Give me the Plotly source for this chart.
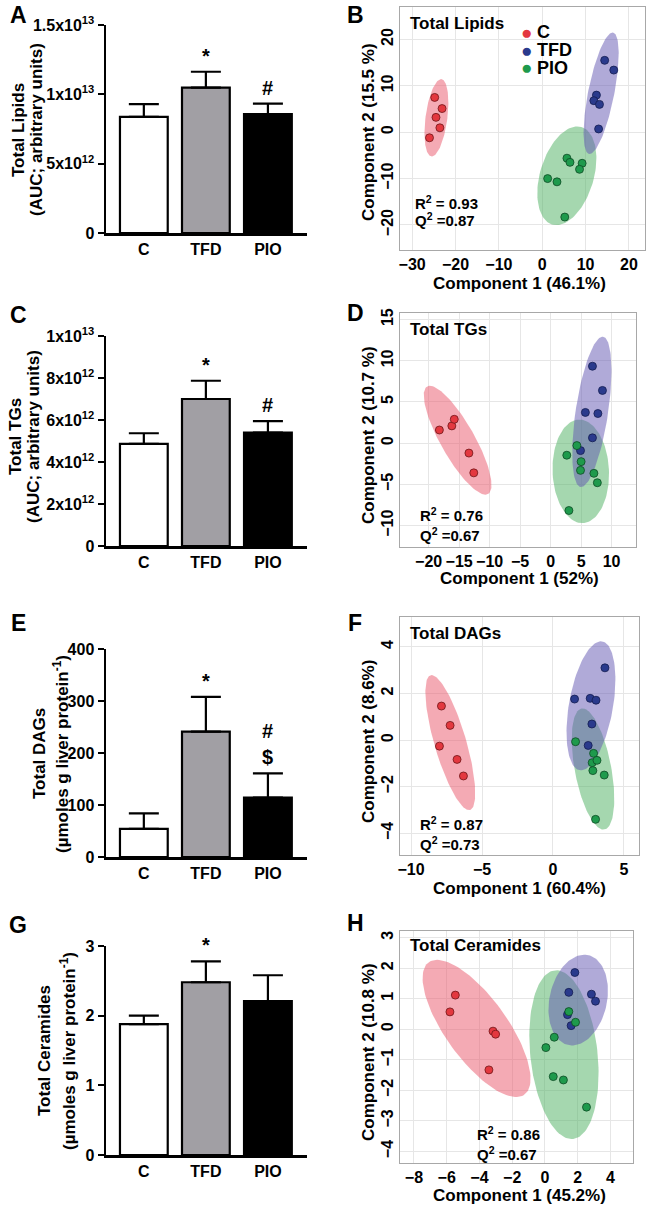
import numpy as np
import plotly.graph_objects as go

W, H = 646, 1208
FONT = "Arial, 'Liberation Sans', Helvetica, sans-serif"

groups = ["C", "TFD", "PIO"]

# ---------------- bar panels (mean, SEM) ----------------
lipids_mean = [0.837e13, 1.048e13, 0.858e13]
lipids_err = [0.093e13, 0.115e13, 0.075e13]
lipids_sig = ["", "*", "#"]
lipids_ticks = [0, 5e12, 1e13, 1.5e13]
lipids_ticktext = ["0", "5x10<sup>12</sup>", "1x10<sup>13</sup>", "1.5x10<sup>13</sup>"]

tgs_mean = [0.486e13, 0.700e13, 0.540e13]
tgs_err = [0.051e13, 0.087e13, 0.055e13]
tgs_sig = ["", "*", "#"]
tgs_ticks = [0, 2e12, 4e12, 6e12, 8e12, 1e13]
tgs_ticktext = ["0", "2x10<sup>12</sup>", "4x10<sup>12</sup>", "6x10<sup>12</sup>",
                "8x10<sup>12</sup>", "1x10<sup>13</sup>"]

dags_mean = [54, 241, 114]
dags_err = [30, 67, 47]
dags_sig = ["", "*", "#<br>$"]
dags_ticks = [0, 100, 200, 300, 400]

cer_mean = [1.88, 2.48, 2.21]
cer_err = [0.12, 0.30, 0.37]
cer_sig = ["", "*", ""]
cer_ticks = [0, 1, 2, 3]

# ---------------- PLS-DA score plots ----------------
lipids_C_x = [-24.8, -23.1, -24.5, -23.6, -26.0]
lipids_C_y = [7.5, 5.1, 3.2, 0.95, -1.2]
lipids_TFD_x = [14.4, 16.5, 12.5, 11.9, 13.2, 13.0]
lipids_TFD_y = [15.5, 13.4, 8.0, 6.8, 6.0, 0.7]
lipids_PIO_x = [5.7, 6.4, 9.2, 8.6, 1.25, 3.4, 5.2]
lipids_PIO_y = [-5.6, -6.5, -6.7, -8.0, -10.0, -10.7, -18.3]

tgs_C_x = [-18.24, -16.2, -15.8, -13.4, -12.6]
tgs_C_y = [1.6, 2.1, 2.9, -1.2, -3.6]
tgs_TFD_x = [6.86, 8.5, 5.7, 7.75, 6.86, 4.9]
tgs_TFD_y = [9.34, 6.4, 3.73, 3.6, 0.65, -0.9]
tgs_PIO_x = [4.3, 2.65, 5.0, 4.9, 7.1, 7.66, 3.0]
tgs_PIO_y = [-0.29, -1.46, -2.24, -3.3, -3.66, -4.8, -8.17]

dags_C_x = [-7.86, -7.25, -8.0, -6.76, -6.31]
dags_C_y = [1.46, 0.63, -0.26, -0.83, -1.54]
dags_TFD_x = [3.66, 1.52, 2.62, 3.03, 2.74, 2.48]
dags_TFD_y = [3.1, 1.76, 1.79, 1.71, 0.69, -0.23]
dags_PIO_x = [1.59, 2.86, 2.76, 3.1, 2.81, 3.61, 3.0]
dags_PIO_y = [-0.07, -0.57, -0.97, -0.87, -1.31, -1.5, -3.4]

cer_C_x = [-5.47, -5.8, -3.17, -3.01, -3.42]
cer_C_y = [1.12, 0.57, -0.06, -0.16, -1.33]
cer_TFD_x = [1.83, 1.46, 2.84, 3.09, 1.38, 1.6]
cer_TFD_y = [1.86, 1.21, 1.15, 0.92, 0.48, 0.12]
cer_PIO_x = [1.46, 1.87, 0.57, 0.06, 0.51, 1.13, 2.54]
cer_PIO_y = [0.58, 0.23, -0.26, -0.6, -1.55, -1.66, -2.55]

# ---------------- styling ----------------
bar_fill = ["#ffffff", "#a19fa4", "#000000"]
pt_color = {"C": "#e3383f", "TFD": "#2a3a8c", "PIO": "#1e9a4c"}
pt_edge = {"C": "#6e1518", "TFD": "#141d50", "PIO": "#0e4a25"}
ell_fill = {"C": "rgba(233,85,105,0.5)", "TFD": "rgba(97,85,177,0.5)",
            "PIO": "rgba(75,175,95,0.5)"}


def fx(p):
    return p / W


def fy(p):
    return 1 - p / H


def ellipse(x, y, level_t=np.sqrt(5.991), n=120):
    pts = np.vstack([x, y])
    c = pts.mean(axis=1)
    cov = np.cov(pts)
    vals, vecs = np.linalg.eigh(cov)
    t = np.linspace(0, 2 * np.pi, n)
    circ = np.vstack([np.cos(t), np.sin(t)])
    e = vecs @ (np.sqrt(vals)[:, None] * circ) * level_t + c[:, None]
    return e[0], e[1]


fig = go.Figure()
annotations = []


def ann(xp, yp, text, size, angle=0, xanchor="center", yanchor="middle", color="black"):
    annotations.append(dict(x=fx(xp), y=fy(yp), xref="paper", yref="paper", text=text,
                            showarrow=False, textangle=angle, xanchor=xanchor,
                            yanchor=yanchor, font=dict(family=FONT, size=size,
                                                       color=color, weight="bold")))


bar_panels = [
    dict(mean=lipids_mean, err=lipids_err, sig=lipids_sig, tv=lipids_ticks,
         tt=lipids_ticktext, yr=[0, 1.5e13], top=25, bottom=233, letter="A", ly=15,
         t1="Total Lipids", t2="(AUC; arbitrary units)", tx=(18, 36), tyc=130),
    dict(mean=tgs_mean, err=tgs_err, sig=tgs_sig, tv=tgs_ticks, tt=tgs_ticktext,
         yr=[0, 1e13], top=336, bottom=546, letter="C", ly=315,
         t1="Total TGs", t2="(AUC; arbitrary units)", tx=(16, 34), tyc=437),
    dict(mean=dags_mean, err=dags_err, sig=dags_sig, tv=dags_ticks,
         tt=[str(v) for v in dags_ticks], yr=[0, 400], top=649, bottom=857,
         letter="E", ly=623, t1="Total DAGs",
         t2="(µmoles g liver protein<sup>-1</sup>)", tx=(39, 61), tyc=754),
    dict(mean=cer_mean, err=cer_err, sig=cer_sig, tv=cer_ticks,
         tt=[str(v) for v in cer_ticks], yr=[0, 3], top=946, bottom=1155,
         letter="G", ly=925, t1="Total Ceramides",
         t2="(µmoles g liver protein<sup>-1</sup>)", tx=(44, 68), tyc=1051),
]

layout_axes = {}
for i, p in enumerate(bar_panels):
    n = i + 1
    xa = "x" if n == 1 else f"x{n}"
    ya = "y" if n == 1 else f"y{n}"
    fig.add_trace(go.Bar(
        x=groups, y=p["mean"], width=0.77,
        marker=dict(color=bar_fill, line=dict(color="black", width=2.2)),
        error_y=dict(type="data", array=p["err"], arrayminus=[0, 0, 0],
                     symmetric=False, color="black", thickness=2.2, width=15),
        xaxis=xa, yaxis=ya, showlegend=False, hoverinfo="skip"))
    xkey = "xaxis" if n == 1 else f"xaxis{n}"
    ykey = "yaxis" if n == 1 else f"yaxis{n}"
    layout_axes[xkey] = dict(domain=[fx(106), fx(307)], anchor=ya, range=[-0.61, 2.63],
                             showline=True, linecolor="black", linewidth=2.5,
                             ticks="", showgrid=False, zeroline=False, automargin=False,
                             tickfont=dict(family=FONT, size=16, color="black", weight="bold"),
                             fixedrange=True)
    layout_axes[ykey] = dict(domain=[fy(p["bottom"]), fy(p["top"])], anchor=xa,
                             range=p["yr"], showline=True, linecolor="black",
                             linewidth=2.5, ticks="outside", ticklen=6, tickwidth=2,
                             tickcolor="black", tickvals=p["tv"], ticktext=p["tt"],
                             showgrid=False, zeroline=False, automargin=False,
                             tickfont=dict(family=FONT, size=16, color="black", weight="bold"))
    for g, v, e, s in zip(groups, p["mean"], p["err"], p["sig"]):
        if s:
            annotations.append(dict(x=g, y=v + e, xref=xa, yref=ya, text=s,
                                    showarrow=False, yanchor="bottom", yshift=3,
                                    font=dict(family=FONT, size=20, color="black",
                                              weight="bold")))
    ann(p["tx"][0], p["tyc"], p["t1"], 17, angle=-90)
    ann(p["tx"][1], p["tyc"], p["t2"], 17, angle=-90)
    ann(18, p["ly"], p["letter"], 23)

score_panels = [
    dict(data={"C": (lipids_C_x, lipids_C_y), "TFD": (lipids_TFD_x, lipids_TFD_y),
               "PIO": (lipids_PIO_x, lipids_PIO_y)},
         xd=(400, 645), yd=(7, 250), xr=[-32.8, 23.7], yr=[-25.4, 27],
         xt=[-30, -20, -10, 0, 10, 20], yt=[-20, -10, 0, 10, 20],
         letter="B", ly=15, title="Total Lipids", ty=23,
         ytitle="Component 2 (15.5 %)", ytc=132, xtitle="Component 1 (46.1%)", xty=283,
         r2=("R<sup>2</sup> = 0.93", "Q<sup>2</sup> =0.87"), r2pos=(413, 202, 220)),
    dict(data={"C": (tgs_C_x, tgs_C_y), "TFD": (tgs_TFD_x, tgs_TFD_y),
               "PIO": (tgs_PIO_x, tgs_PIO_y)},
         xd=(400, 636), yd=(313, 547), xr=[-24.7, 14.0], yr=[-12.6, 15.8],
         xt=[-20, -15, -10, -5, 0, 5, 10], yt=[-10, -5, 0, 5, 10, 15],
         letter="D", ly=313, title="Total TGs", ty=329,
         ytitle="Component 2 (10.7 %)", ytc=435, xtitle="Component 1 (52%)", xty=579,
         r2=("R<sup>2</sup> = 0.76", "Q<sup>2</sup> =0.67"), r2pos=(418, 514, 534)),
    dict(data={"C": (dags_C_x, dags_C_y), "TFD": (dags_TFD_x, dags_TFD_y),
               "PIO": (dags_PIO_x, dags_PIO_y)},
         xd=(400, 639), yd=(617, 855), xr=[-10.78, 6.06], yr=[-4.93, 5.28],
         xt=[-10, -5, 0, 5], yt=[-4, -2, 0, 2, 4],
         letter="F", ly=623, title="Total DAGs", ty=633,
         ytitle="Component 2 (8.6%)", ytc=742, xtitle="Component 1 (60.4%)", xty=888,
         r2=("R<sup>2</sup> = 0.87", "Q<sup>2</sup> =0.73"), r2pos=(418, 823, 843)),
    dict(data={"C": (cer_C_x, cer_C_y), "TFD": (cer_TFD_x, cer_TFD_y),
               "PIO": (cer_PIO_x, cer_PIO_y)},
         xd=(400, 633), yd=(931, 1163), xr=[-8.85, 5.38], yr=[-4.38, 3.22],
         xt=[-8, -6, -4, -2, 0, 2, 4], yt=[-4, -3, -2, -1, 0, 1, 2, 3],
         letter="H", ly=923, title="Total Ceramides", ty=945,
         ytitle="Component 2 (10.8 %)", ytc=1052, xtitle="Component 1 (45.2%)", xty=1195,
         r2=("R<sup>2</sup> = 0.86", "Q<sup>2</sup> =0.67"), r2pos=(475, 1133, 1153)),
]

for i, p in enumerate(score_panels):
    n = i + 5
    xa, ya = f"x{n}", f"y{n}"
    for g in ["C", "PIO", "TFD"]:
        ex, ey = ellipse(np.array(p["data"][g][0]), np.array(p["data"][g][1]))
        fig.add_trace(go.Scatter(x=ex, y=ey, mode="lines", fill="toself",
                                 fillcolor=ell_fill[g], line=dict(width=0),
                                 xaxis=xa, yaxis=ya, showlegend=False, hoverinfo="skip"))
    for g in ["C", "TFD", "PIO"]:
        fig.add_trace(go.Scatter(x=p["data"][g][0], y=p["data"][g][1], mode="markers",
                                 marker=dict(size=8, color=pt_color[g],
                                             line=dict(color=pt_edge[g], width=0.8)),
                                 xaxis=xa, yaxis=ya, showlegend=False, name=g))
    layout_axes[f"xaxis{n}"] = dict(domain=[fx(p["xd"][0]), fx(p["xd"][1])], anchor=ya,
                                    range=p["xr"], tickvals=p["xt"], showline=True,
                                    linecolor="#a8a8a8", linewidth=1, mirror=True,
                                    showgrid=True, gridcolor="#e6e6e6", zeroline=False,
                                    ticks="", automargin=False,
                                    tickfont=dict(family=FONT, size=16, color="black",
                                                  weight="bold"))
    layout_axes[f"yaxis{n}"] = dict(domain=[fy(p["yd"][1]), fy(p["yd"][0])], anchor=xa,
                                    range=p["yr"], tickvals=p["yt"], showline=True,
                                    linecolor="#a8a8a8", linewidth=1, mirror=True,
                                    showgrid=True, gridcolor="#e6e6e6", zeroline=False,
                                    ticks="", tickangle=-90, automargin=False,
                                    tickfont=dict(family=FONT, size=16, color="black",
                                                  weight="bold"))
    ann(355, p["ly"], p["letter"], 23)
    ann(408, p["ty"], p["title"], 17, xanchor="left")
    ann(368, p["ytc"], p["ytitle"], 17, angle=-90)
    ann(519, p["xty"], p["xtitle"], 17)
    ann(p["r2pos"][0], p["r2pos"][1], p["r2"][0], 15, xanchor="left")
    ann(p["r2pos"][0], p["r2pos"][2], p["r2"][1], 15, xanchor="left")

# legend of panel B: coloured circle glyph + group name
for g, yy in zip(groups, [32, 50, 68]):
    ann(526, yy, "●", 19, color=pt_color[g])
    ann(535, yy, g, 18, xanchor="left")

fig.update_layout(template="none", width=W, height=H,
                  margin=dict(l=0, r=0, t=0, b=0, autoexpand=False),
                  paper_bgcolor="white", plot_bgcolor="white", bargap=0.2,
                  font=dict(family=FONT, color="black"), annotations=annotations,
                  hovermode=False, **layout_axes)

fig.write_html("out.html", config={"displayModeBar": False, "staticPlot": True},
               post_script="document.body.style.margin='0px';"
                           "document.body.style.overflow='hidden';")
